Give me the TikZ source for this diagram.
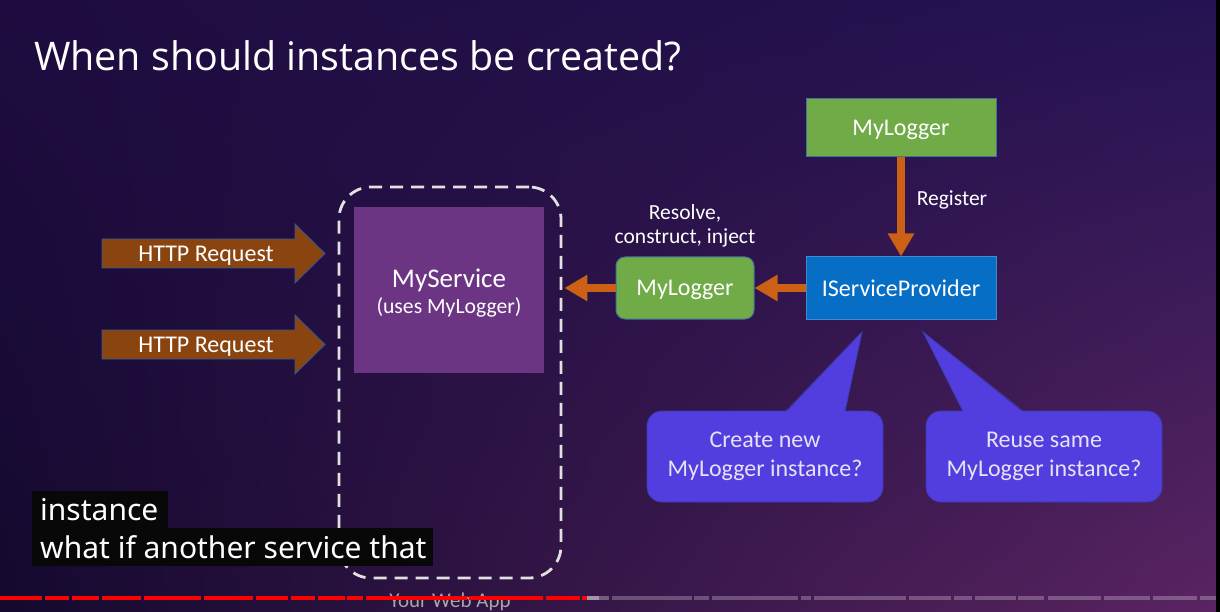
\documentclass[tikz,border=0pt]{standalone}
\usepackage{fontspec}
\setmainfont{Carlito}
\newfontfamily\titlefont{Open Sans}
\newfontfamily\capfont{Noto Sans}
\usetikzlibrary{arrows.meta,calc,shadings}

\definecolor{bgTL}{RGB}{30,12,64}
\definecolor{bgTR}{RGB}{36,19,82}
\definecolor{bgBL}{RGB}{20,9,46}
\definecolor{bgBR}{RGB}{90,36,98}
\definecolor{reqbrown}{RGB}{138,68,16}
\definecolor{reqline}{RGB}{50,90,150}
\definecolor{svcpurple}{RGB}{108,53,132}
\definecolor{loggreen}{RGB}{112,171,72}
\definecolor{boxline}{RGB}{65,113,156}
\definecolor{ispblue}{RGB}{6,110,196}
\definecolor{isplline}{RGB}{60,140,210}
\definecolor{flow}{RGB}{204,96,20}
\definecolor{bubble}{RGB}{82,62,222}
\definecolor{bubbleline}{RGB}{60,60,170}
\definecolor{bubbletext}{RGB}{230,226,245}
\definecolor{dashgray}{RGB}{225,225,225}
\definecolor{ytred}{RGB}{255,0,0}

\newcommand\setfs[2]{\fontsize{#1}{#2}\selectfont}

\begin{document}
\begin{tikzpicture}[x=1pt,y=-1pt,
  txt/.style={text=white, inner sep=0pt},
  reqarrow/.style={fill=reqbrown, draw=reqline, line width=0.8pt},
  svcbox/.style={fill=svcpurple, minimum width=190pt, minimum height=166pt, inner sep=0pt},
  greenbox/.style={fill=loggreen, draw=boxline, line width=1pt, text=white,
    font=\setfs{24}{28}, text depth=0pt},
  bluebox/.style={fill=ispblue, draw=isplline, line width=1pt, text=white,
    font=\setfs{24}{28}, text depth=0pt},
  webapp/.style={draw=dashgray, line width=2.8pt, dash pattern=on 13pt off 8pt,
    rounded corners=32pt, minimum width=222pt, minimum height=391pt},
  oarrow/.style={draw=flow, line width=7.5pt,
    -{Triangle[width=25pt,length=23pt]}, shorten >=0pt},
  lbl/.style={text=white, align=center, font=\setfs{21.5}{24}},
  callout/.style={fill=bubble, draw=bubbleline, line width=0.8pt,
    rounded corners=15pt, minimum width=236pt, minimum height=91pt,
    text=bubbletext, align=center, font=\setfs{24}{29}},
  tail/.style={fill=bubble},
  tailedge/.style={draw=bubbleline, line width=0.8pt},
  subbox/.style={fill=black!97!white},
  subtext/.style={text=white, inner sep=0pt, font=\capfont\setfs{30}{32}},
  barred/.style={fill=ytred},
  bargray/.style={fill=white, fill opacity=0.25},
]
\useasboundingbox (0,0) rectangle (1220,612);

% slide background
\shade[upper left=bgTL, upper right=bgTR, lower left=bgBL, lower right=bgBR]
  (0,0) rectangle (1216,612);
\fill[black] (1216,0) rectangle (1220,612);

% title
\node[txt, anchor=base west, font=\titlefont\setfs{39.4}{44}] (title) at (34,71)
  {When should instances be created?};

% the web app boundary
\node[webapp] (app) at (450,382.5) {};

% incoming requests
\foreach \yc/\nm in {253.5/req1, 344.5/req2} {
  \draw[reqarrow] (102,\yc-14.5) -- (295,\yc-14.5) -- (295,\yc-29.5)
    -- (325,\yc) -- (295,\yc+29.5) -- (295,\yc+14.5) -- (102,\yc+14.5) -- cycle;
  \node[txt, font=\setfs{24}{28}, anchor=base] (\nm) at (206,\yc+8) {HTTP Request};
}

% service
\node[svcbox] (svc) at (449,290) {};
\node[txt, font=\setfs{27}{30}] (svcname) at (449,280) {MyService};
\node[txt, font=\setfs{21.7}{24}] (svcuses) at (449,307) {(uses MyLogger)};

% registration and resolution
\node[greenbox, minimum width=190pt, minimum height=58pt] (logtop) at (901,128) {MyLogger};
\node[bluebox, minimum width=190pt, minimum height=62pt] (isp) at (901,288) {IServiceProvider};
\node[greenbox, rounded corners=9pt, minimum width=138pt, minimum height=62pt] (log2) at (685,288) {MyLogger};

\draw[oarrow] (logtop.south) -- (isp.north);
\draw[oarrow] (isp.west) -- (log2.east);
\draw[oarrow] (log2.west) -- ($(log2.west -| app.east)+(2,0)$);

\node[lbl] (reg) at (952,200) {Register};
\node[lbl] (resolve) at (685,226) {Resolve,\\construct, inject};

% questions
\node[callout] (qnew) at (765,456.5) {Create new\\MyLogger instance?};
\node[callout] (qsame) at (1044,456.5) {Reuse same\\MyLogger instance?};
\fill[tail] (786,412.2) -- (862,332) -- (845,412.2) -- cycle;
\draw[tailedge] (786,411) -- (862,332) -- (845,411);
\fill[tail] (963,412.2) -- (923,332) -- (1023,412.2) -- cycle;
\draw[tailedge] (963,411) -- (923,332) -- (1023,411);

% caption under the boundary
\node[text=gray!70, anchor=base, font=\setfs{21}{24}, inner sep=0pt] (applbl) at (450,607) {Your Web App};

% subtitles
\fill[subbox] (32,491) rectangle (168,528);
\fill[subbox] (32,528) rectangle (433,566);
\node[subtext, anchor=base west] (sub1) at (40,520) {instance};
\node[subtext, anchor=base west] (sub2) at (40,558) {what if another service that};

% player progress bar
\foreach \a/\b in {0/41.5, 45/69, 72/99, 102/141, 144/201, 204/253, 256/288,
  291/315, 318/345, 347/363, 366/467, 468.5/543, 546/580, 582/587}
  \fill[barred] (\a,595.5) rectangle (\b,600);
\fill[white, fill opacity=0.55] (587,595.5) rectangle (599,600);
\fill[white, fill opacity=0.3] (599,595.5) rectangle (609,600);
\foreach \a/\b in {612/692, 694/709, 712/798, 801/811, 814/906, 909/951,
  954/972, 975/1016, 1018/1044, 1048/1101, 1104/1150, 1153/1197, 1200/1216}
  \fill[bargray] (\a,595.5) rectangle (\b,600);
\end{tikzpicture}
\end{document}
